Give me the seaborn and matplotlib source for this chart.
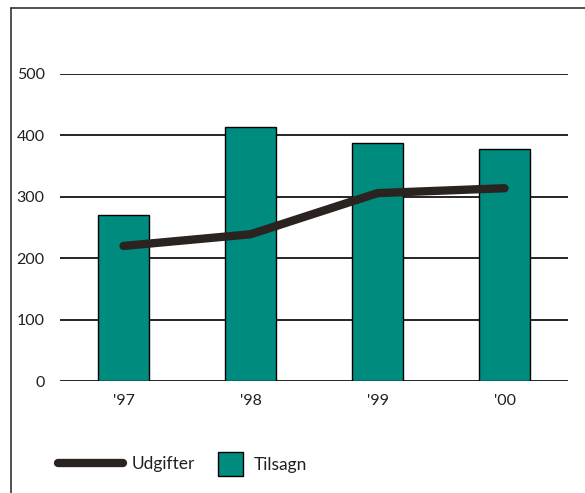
import matplotlib
matplotlib.use('Agg')
import matplotlib.pyplot as plt
import seaborn as sns
from matplotlib.lines import Line2D
from matplotlib.patches import Patch

# ── Data ──────────────────────────────────────────────────────────────────────
years     = ["'97", "'98", "'99", "'00"]
tilsagn   = [270, 414, 388, 378]    # bars
udgifter  = [220, 239, 306, 314]    # line
y_ticks   = [0, 100, 200, 300, 400, 500]

BAR_COLOR  = '#008B7F'
LINE_COLOR = '#2A2320'
TEXT_COLOR = '#231F20'

sns.set_style('white')
plt.rcParams['font.family'] = ['Lato', 'DejaVu Sans']

fig = plt.figure(figsize=(5.85, 4.93), dpi=100)
ax = fig.add_axes([0.1026, 0.227, 0.8684, 0.623])

sns.barplot(x=years, y=tilsagn, color=BAR_COLOR, width=0.4,
            edgecolor='black', linewidth=1.0, saturation=1, ax=ax, zorder=3)
sns.pointplot(x=years, y=udgifter, color=LINE_COLOR, markers='',
              linewidth=6, ax=ax, zorder=4)
for ln in ax.lines:
    ln.set_solid_capstyle('round')

ax.set_ylim(0, 500)
ax.set_xlim(-0.5, 3.5)
ax.set_yticks(y_ticks)
ax.set_yticklabels([str(t) for t in y_ticks])
ax.grid(False)
for t in y_ticks:
    ax.axhline(t, color='black', linewidth=1.2, zorder=1)
for s in ax.spines.values():
    s.set_visible(False)
ax.tick_params(axis='both', length=0, labelsize=11.5, colors=TEXT_COLOR)
ax.tick_params(axis='y', pad=11)
ax.tick_params(axis='x', pad=9)
ax.set_xlabel('')
ax.set_ylabel('')

# outer frame (left + top)
fig.add_artist(Line2D([11 / 585, 11 / 585], [0, 1 - 8 / 493], color='#333333', lw=1.2))
fig.add_artist(Line2D([11 / 585, 1], [1 - 8 / 493, 1 - 8 / 493], color='#333333', lw=1.2))

# legend
line_handle = Line2D([], [], color=LINE_COLOR, linewidth=6, solid_capstyle='round')
bar_handle = Patch(facecolor=BAR_COLOR, edgecolor='black', linewidth=1.0)
fig.legend([line_handle], ['Udgifter'], loc='center left',
           bbox_to_anchor=(0.085, 0.058), frameon=False,
           handlelength=3.7, handletextpad=0.5, fontsize=12.5,
           labelcolor=TEXT_COLOR, borderpad=0)
fig.legend([bar_handle], ['Tilsagn'], loc='center left',
           bbox_to_anchor=(0.358, 0.058), frameon=False,
           handlelength=1.45, handleheight=1.75, handletextpad=0.6,
           fontsize=12.5, labelcolor=TEXT_COLOR, borderpad=0)

fig.savefig('out.png', dpi=100)
